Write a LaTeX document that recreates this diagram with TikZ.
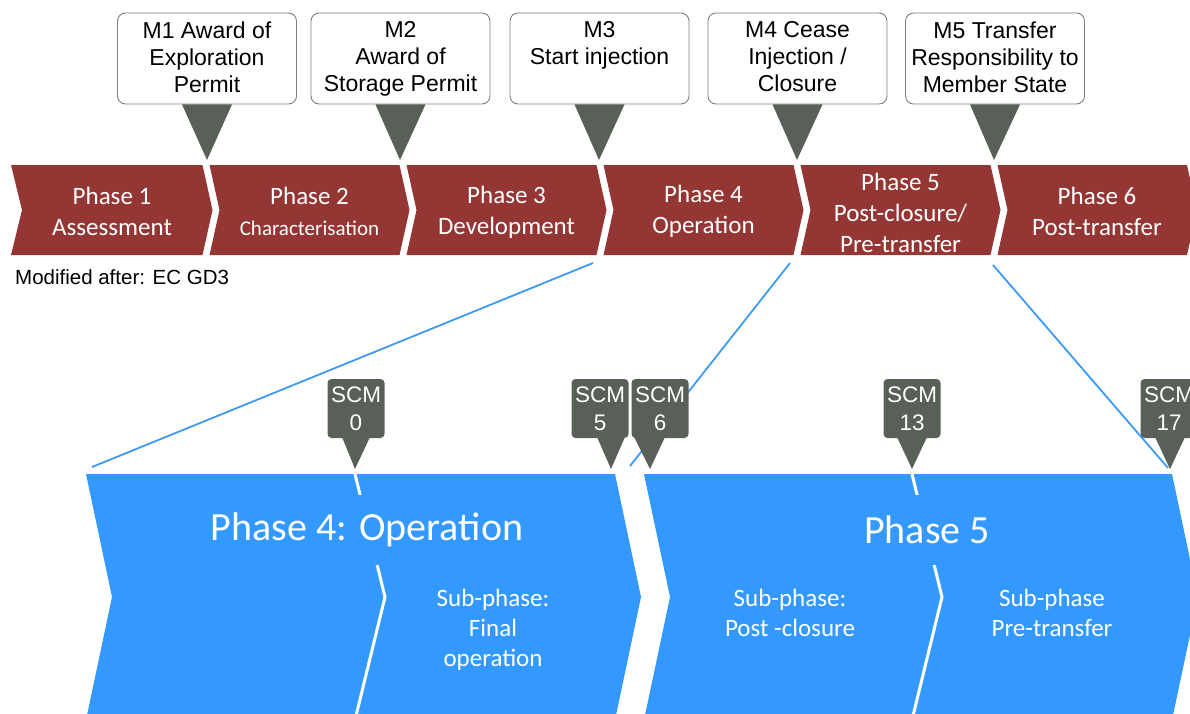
\documentclass[tikz,border=0pt]{standalone}
\usepackage{fontspec}
\setmainfont{Liberation Sans}
\newfontfamily\calib{Carlito}
\definecolor{phred}{HTML}{943634}
\definecolor{ptrgray}{HTML}{586058}
\definecolor{pblue}{HTML}{3399FF}
\definecolor{lblue}{HTML}{3D9BF5}
\definecolor{boxgray}{HTML}{7F7F7F}
\begin{document}
\begin{tikzpicture}[x=1pt,y=-1pt,
  mbox/.style={draw=boxgray,line width=0.9pt,fill=white,rounded corners=8pt,minimum width=179pt,minimum height=91pt,inner sep=0pt},
  mtext/.style={anchor=north,align=center,inner sep=0pt,font=\fontsize{23}{27}\selectfont},
  scmbox/.style={fill=ptrgray,rounded corners=4pt,minimum width=57pt,minimum height=59pt,inner sep=0pt},
  scmtext/.style={anchor=north,align=center,inner sep=0pt,text=white,font=\fontsize{22.5}{28}\selectfont},
  phtext/.style={align=center,inner sep=0pt,text=white,font=\calib\fontsize{25}{31}\selectfont},
  subtext/.style={anchor=north,align=center,inner sep=0pt,text=white,font=\calib\fontsize{25}{30}\selectfont},
  bigtitle/.style={fill=pblue,minimum height=70pt,inner xsep=2pt,text=white,font=\calib\fontsize{40}{46}\selectfont},
  zoomline/.style={draw=lblue,line width=1.8pt},
  divider/.style={draw=white,line width=3pt}
]
\useasboundingbox (0,0) rectangle (1190,713);
\begin{scope}
\clip (0,0) rectangle (1190,713);
% top red chevrons
\fill[phred] (11,165) -- (202.5,165) -- (212.5,210) -- (202.5,255) -- (11,255) -- (22,210) -- cycle;
\fill[phred] (209.5,165) -- (399.5,165) -- (409.5,210) -- (399.5,255) -- (209.5,255) -- (219.5,210) -- cycle;
\fill[phred] (406.5,165) -- (596.5,165) -- (606.5,210) -- (596.5,255) -- (406.5,255) -- (416.5,210) -- cycle;
\fill[phred] (603.5,165) -- (793.5,165) -- (803.5,210) -- (793.5,255) -- (603.5,255) -- (613.5,210) -- cycle;
\fill[phred] (800.5,165) -- (990.5,165) -- (1000.5,210) -- (990.5,255) -- (800.5,255) -- (810.5,210) -- cycle;
\fill[phred] (997.5,165) -- (1187,165) -- (1197,210) -- (1187,255) -- (997.5,255) -- (1007.5,210) -- cycle;
\node[phtext] (p1) at (112,211) {Phase 1\\Assessment};
\node[phtext] (p2) at (309.5,211) {Phase 2\\{\fontsize{21}{28}\selectfont Characterisation}};
\node[phtext] (p3) at (506.5,212.5) {Phase 3\\Development};
\node[phtext] (p4) at (703.5,211.5) {Phase 4\\Operation};
\node[phtext] (p5) at (900.5,213) {Phase 5\\Post-closure/\\Pre-transfer};
\node[phtext] (p6) at (1097,211) {Phase 6\\Post-transfer};
% milestone callouts
\node[mbox] (m1) at (207,58.5) {};
\node[mbox] (m2) at (400.5,58.5) {};
\node[mbox] (m3) at (599.5,58.5) {};
\node[mbox] (m4) at (797.5,58.5) {};
\node[mbox] (m5) at (995,58.5) {};
\coordinate (k1) at (207,160);
\coordinate (k2) at (400,160);
\coordinate (k3) at (599,160);
\coordinate (k4) at (797,160);
\coordinate (k5) at (994,160);
\foreach \i in {1,...,5}{
  \fill[ptrgray] ([xshift=-25pt]m\i.south) -- ([xshift=25pt]m\i.south) -- (k\i) -- cycle;
}
\node[mtext] (t1) at (207,21.5) {M1 Award of\\Exploration\\Permit};
\node[mtext] (t2) at (400.5,21.5) {M2\\Award of\\Storage Permit};
\node[mtext] (t3) at (599.5,21.5) {M3\\Start injection};
\node[mtext] (t4) at (797.5,21.5) {M4 Cease\\Injection /\\Closure};
\node[mtext] (t5) at (995,21.5) {M5 Transfer\\Responsibility to\\Member State};
\node[anchor=west,inner sep=0pt,font=\fontsize{20.5}{23}\selectfont] (src) at (15,277) {Modified after: EC GD3};
% zoom lines
\coordinate (z1a) at (593,263);
\coordinate (z1b) at (92,467);
\coordinate (z2a) at (790,263);
\coordinate (z2b) at (630,466);
\coordinate (z3a) at (993,265);
\coordinate (z3b) at (1168,468);
\draw[zoomline] (z1a) -- (z1b);
\draw[zoomline] (z2a) -- (z2b);
\draw[zoomline] (z3a) -- (z3b);
% blue chevrons
\fill[pblue] (86,474) -- (615,474) -- (641,597) -- (615,720) -- (86,720) -- (112,597) -- cycle;
\fill[pblue] (644,474) -- (1172,474) -- (1198,597) -- (1172,720) -- (644,720) -- (670,597) -- cycle;
\draw[divider] (355,474) -- (385,597) -- (355,720);
\draw[divider] (912,474) -- (942,597) -- (912,720);
\node[bigtitle] (b4) at (367,530) {Phase 4: Operation};
\node[bigtitle] (b5) at (927,530) {Phase 5};
\node[subtext] (s1) at (493,588.5) {Sub-phase:\\Final\\operation};
\node[subtext] (s2) at (790,588.5) {Sub-phase:\\Post -closure};
\node[subtext] (s3) at (1052,588.5) {Sub-phase\\Pre-transfer};
% SCM markers
\node[scmbox] (c0) at (356,408.5) {};
\node[scmbox] (c5) at (600,408.5) {};
\node[scmbox] (c6) at (660,408.5) {};
\node[scmbox] (c13) at (912,408.5) {};
\node[scmbox] (c17) at (1169,408.5) {};
\coordinate (q0) at (355,469);
\coordinate (q5) at (611,469);
\coordinate (q6) at (650,469);
\coordinate (q13) at (912,469);
\coordinate (q17) at (1170,469);
\fill[ptrgray] (342,437) -- (370,437) -- (q0) -- cycle;
\fill[ptrgray] (597,437) -- (625,437) -- (q5) -- cycle;
\fill[ptrgray] (634,437) -- (665,437) -- (q6) -- cycle;
\fill[ptrgray] (897,437) -- (927,437) -- (q13) -- cycle;
\fill[ptrgray] (1155,437) -- (1185,437) -- (q17) -- cycle;
\node[scmtext] at (c0.north) [yshift=-8pt] {SCM\\0};
\node[scmtext] at (c5.north) [yshift=-8pt] {SCM\\5};
\node[scmtext] at (c6.north) [yshift=-8pt] {SCM\\6};
\node[scmtext] at (c13.north) [yshift=-8pt] {SCM\\13};
\node[scmtext] at (c17.north) [yshift=-8pt] {SCM\\17};
\end{scope}
\end{tikzpicture}
\end{document}
